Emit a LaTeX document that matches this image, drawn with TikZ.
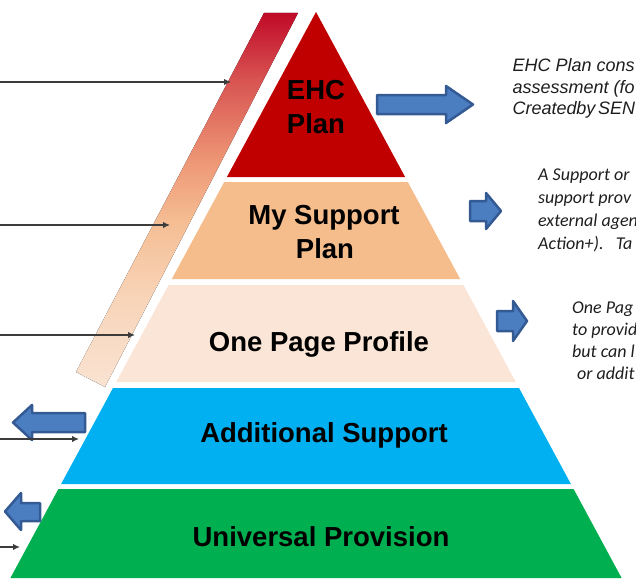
\documentclass[tikz,border=0pt]{standalone}
\usepackage{fontspec}
\setmainfont{Liberation Sans}
\newfontfamily\calib{Carlito}
\usetikzlibrary{arrows.meta}
\definecolor{ehcred}{RGB}{192,0,0}
\definecolor{supor}{RGB}{245,188,140}
\definecolor{peach}{RGB}{251,229,214}
\definecolor{addblue}{RGB}{0,176,240}
\definecolor{unigreen}{RGB}{0,176,80}
\definecolor{arrfill}{RGB}{74,126,193}
\definecolor{arrline}{RGB}{52,90,148}
\definecolor{linegray}{RGB}{60,60,60}
\definecolor{txtdark}{RGB}{30,30,30}
\definecolor{sA}{RGB}{249,227,210}
\definecolor{sB}{RGB}{248,212,184}
\definecolor{sC}{RGB}{245,190,148}
\definecolor{sD}{RGB}{238,152,118}
\definecolor{sE}{RGB}{216,84,82}
\definecolor{sF}{RGB}{192,10,40}
\pgfdeclareverticalshading{stripeshade}{100bp}{color(0bp)=(sA); color(25bp)=(sA); color(37bp)=(sB); color(47bp)=(sC); color(55bp)=(sD); color(66bp)=(sE); color(75bp)=(sF); color(100bp)=(sF)}
\tikzset{
  lbl/.style={font=\bfseries\fontsize{27.5}{33}\selectfont, text=black, align=center, inner sep=0pt},
  blockarrow/.style={fill=arrfill, draw=arrline, line width=2.5pt, line join=round},
  pointer/.style={draw=linegray, line width=2.2pt, -{Latex[length=7pt,width=6.5pt]}},
  noteA/.style={font=\itshape\fontsize{18}{21.5}\selectfont, text=txtdark, inner sep=0pt, anchor=base west},
  noteB/.style={font=\calib\itshape\fontsize{18}{23}\selectfont, text=txtdark, inner sep=0pt, anchor=base west}
}
\begin{document}
\begin{tikzpicture}[x=1pt,y=-1pt]
\useasboundingbox (0,0) rectangle (636,578);
\begin{scope}
\clip (0,0) rectangle (636,578);
% gradient stripe
\fill[shading=stripeshade] (264,13) -- (298,13) -- (105,387) -- (76,372) -- cycle;
% pyramid layers
\fill[ehcred] (316,12) -- (405.1,177) -- (226.9,177) -- cycle;
\fill[supor] (224.2,182) -- (407.8,182) -- (460.2,279) -- (171.8,279) -- cycle;
\fill[peach] (168.6,285) -- (463.4,285) -- (515.8,382) -- (116.2,382) -- cycle;
\fill[addblue] (113.0,388) -- (519.0,388) -- (570.9,484) -- (61.1,484) -- cycle;
\fill[unigreen] (58.4,489) -- (573.6,489) -- (621.6,578) -- (10.4,578) -- cycle;
% labels
\node[lbl, anchor=base] (ehc1) at (316,99) {EHC};
\node[lbl, anchor=base] (ehc2) at (316,133) {Plan};
\node[lbl, anchor=base] (msp1) at (324,224) {My Support};
\node[lbl, anchor=base] (msp2) at (325,258) {Plan};
\node[lbl, anchor=base] (opp) at (319,351) {One Page Profile};
\node[lbl, anchor=base] (add) at (324,442) {Additional Support};
\node[lbl, anchor=base] (uni) at (321,546) {Universal Provision};
% right block arrows
\draw[blockarrow] (377,95) -- (446,95) -- (446,86) -- (473,104.5) -- (446,123) -- (446,114) -- (377,114) -- cycle;
\draw[blockarrow] (470,201) -- (486,201) -- (486,193) -- (501,211) -- (486,229) -- (486,221) -- (470,221) -- cycle;
\draw[blockarrow] (497,311) -- (513,311) -- (513,301) -- (527,321) -- (513,341) -- (513,331) -- (497,331) -- cycle;
% left block arrows
\draw[blockarrow] (85,413) -- (32,413) -- (32,405) -- (13,422.5) -- (32,440) -- (32,432) -- (85,432) -- cycle;
\draw[blockarrow] (40,503) -- (21,503) -- (21,493) -- (5,511.5) -- (21,530) -- (21,521) -- (40,521) -- cycle;
% pointer lines
\coordinate (p1s) at (-2,82);   \coordinate (p1e) at (231,82);
\coordinate (p2s) at (-2,225);  \coordinate (p2e) at (170,225);
\coordinate (p3s) at (-2,335);  \coordinate (p3e) at (135,335);
\coordinate (p4s) at (-2,439);  \coordinate (p4e) at (79,439);
\coordinate (p5s) at (-2,547);  \coordinate (p5e) at (20,547);
\draw[pointer] (p1s) -- (p1e);
\draw[pointer] (p2s) -- (p2e);
\draw[pointer] (p3s) -- (p3e);
\draw[pointer] (p4s) -- (p4e);
\draw[pointer] (p5s) -- (p5e);
% notes
\node[noteA] (n1a) at (512.5,71.5) {EHC Plan cons};
\node[noteA] (n1b) at (512.5,93) {assessment (fo};
\node[noteA] (n1c) at (512.5,114.5) {Created\kern-0.5pt by\kern-2pt\ SEN};
\node[noteB] (n2a) at (538,180) {A Support or};
\node[noteB] (n2b) at (538,203) {support prov};
\node[noteB] (n2c) at (538,226) {external agen};
\node[noteB] (n2d) at (538,249) {Action+).\ \ \ Ta};
\node[noteB] (n3a) at (572,313) {One Pag};
\node[noteB] (n3b) at (572,335) {to provid};
\node[noteB] (n3c) at (572,357) {but can l};
\node[noteB] (n3d) at (577,379) {or addit};
\end{scope}
\end{tikzpicture}
\end{document}
